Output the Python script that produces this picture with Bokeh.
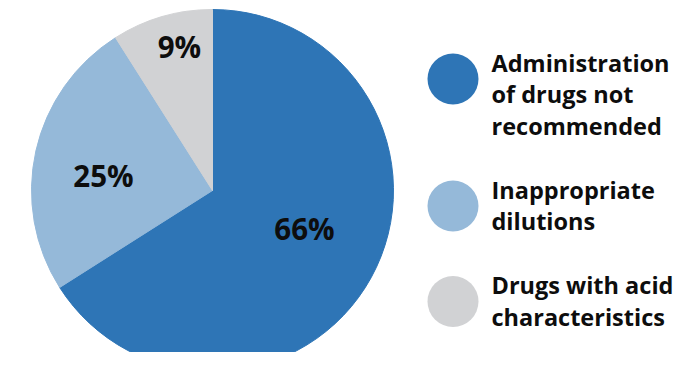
import math
from bokeh.plotting import figure
from bokeh.models import Range1d
from bokeh.core.properties import value
from bokeh.embed import file_html
from bokeh.resources import INLINE

# ---- data ----
categories = ["Administration of drugs not recommended", "Inappropriate dilutions", "Drugs with acid characteristics"]
shares = [66, 25, 9]
pct_labels = ["66%", "25%", "9%"]
legend_lines = [["Administration", "of drugs not", "recommended"],
                ["Inappropriate", "dilutions"],
                ["Drugs with acid", "characteristics"]]

# ---- style / layout ----
colors = ["#2e75b6", "#95b9d9", "#d1d2d4"]
W, H = 684, 352
FONT = "Open Sans"
cx, cy, R = 212, 162, 181
label_polar = [(-22.4, 99.5), (172.2, 110), (102.9, 148)]  # (deg, radius px) for % labels

p = figure(width=W, height=H, output_backend="svg", toolbar_location=None,
           x_range=Range1d(0, W), y_range=Range1d(0, H), min_border=0)
p.axis.visible = False
p.grid.visible = False
p.outline_line_color = None
p.background_fill_color = "white"
p.border_fill_color = "white"

total = float(sum(shares))
cum = 0.0
starts, ends = [], []
for s in shares:
    starts.append(math.pi / 2 - 2 * math.pi * cum / total)
    cum += s
    ends.append(math.pi / 2 - 2 * math.pi * cum / total)

p.wedge(x=[cx] * 3, y=[cy] * 3, radius=R, start_angle=starts, end_angle=ends,
        direction="clock", fill_color=colors, line_color=colors, line_width=1)

lx = [cx + r * math.cos(math.radians(a)) for a, r in label_polar]
ly = [cy + r * math.sin(math.radians(a)) for a, r in label_polar]
p.text(x=lx, y=ly, text=pct_labels, text_font=value(FONT), text_font_style="bold",
       text_font_size="29.5px", text_color="#0d0d0d", text_align="center", text_baseline="middle")

# legend
line_step = 31.5
gap = 64
y0 = 290
circ_x, circ_r, text_x = 452.5, 25.5, 491
for i, lines in enumerate(legend_lines):
    p.circle(x=[circ_x], y=[y0 - 16.5], radius=circ_r, fill_color=colors[i], line_color=None)
    ys = [y0 - k * line_step for k in range(len(lines))]
    p.text(x=[text_x] * len(lines), y=ys, text=lines, text_font=value(FONT), text_font_style="bold",
           text_font_size="23.5px", text_color="#0d0d0d", text_align="left", text_baseline="middle")
    y0 = ys[-1] - gap

open("out.html", "w").write(file_html(p, INLINE))
